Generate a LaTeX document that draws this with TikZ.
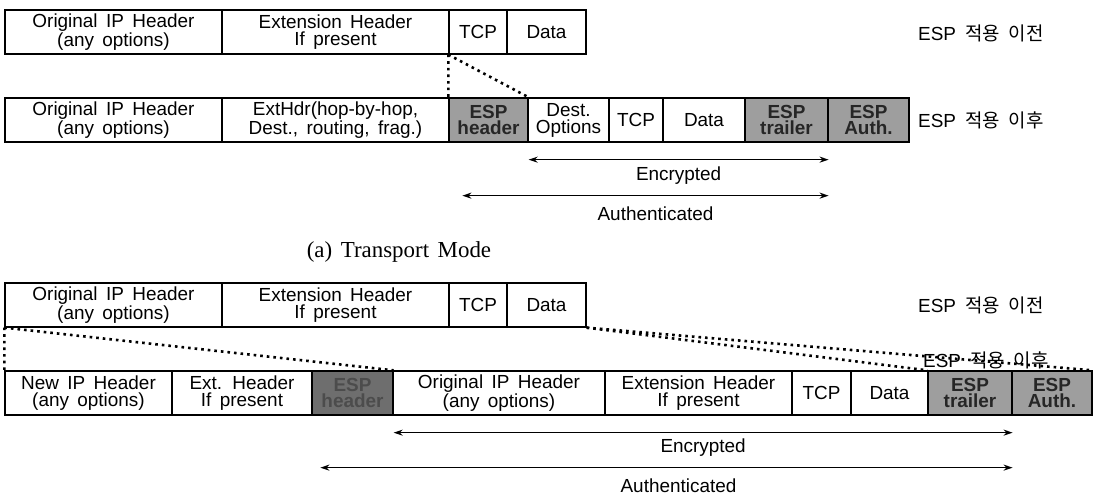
\documentclass[tikz,border=0pt]{standalone}
\usepackage{fontspec}
\setmainfont{Liberation Sans}[WordSpace=1.6]
\newfontfamily\capfont{Liberation Serif}[WordSpace=1.5]
\newfontfamily\krfont{Noto Sans CJK KR}
\usetikzlibrary{arrows.meta}

\definecolor{espgray}{HTML}{9E9E9E}
\definecolor{espdark}{HTML}{6E6E6E}
\definecolor{espink}{HTML}{262626}
\definecolor{espdarkink}{HTML}{4C4C4C}

\tikzset{
  cell/.style={draw, line width=1.3bp, inner sep=0pt, minimum height=44bp,
    align=center, font=\fontsize{19}{17}\selectfont},
  espcell/.style={cell, fill=espgray, text=espink,
    font=\fontsize{19}{17}\selectfont\bfseries},
  espcelldark/.style={espcell, fill=espdark, text=espdarkink},
  fan/.style={line width=2.6bp, dash pattern=on 2.6bp off 4bp},
  span/.style={line width=1.5bp,
    {Stealth[length=9bp,width=6bp]}-{Stealth[length=9bp,width=6bp]}},
  spanlabel/.style={font=\fontsize{19}{19}\selectfont, inner sep=0pt},
  stage/.style={anchor=west, inner sep=0pt, font=\fontsize{19}{19}\selectfont},
}

\begin{document}
\begin{tikzpicture}[x=1bp, y=-1bp]
\fill[white] (0,0) rectangle (1093,496);
\useasboundingbox (0,0) rectangle (1093,496);

% ---------- Transport mode: before ESP ----------
\node[cell, minimum width=217bp] (t1ip)   at (113.5,32) {Original IP Header\\(any options)};
\node[cell, minimum width=227bp] (t1ext)  at (335.5,32) {Extension Header\\If present};
\node[cell, minimum width=58bp]  (t1tcp)  at (478,32)   {TCP};
\node[cell, minimum width=79bp]  (t1data) at (546.5,32) {Data};
\node[stage] (t1lab) at (918,33) {ESP\hspace{0.5em}{\krfont 적용\hspace{0.45em}이전}};

% ---------- Transport mode: after ESP ----------
\node[cell, minimum width=217bp] (t2ip)   at (113.5,120) {Original IP Header\\(any options)};
\node[cell, minimum width=227bp] (t2ext)  at (335.5,120) {ExtHdr(hop-by-hop,\\Dest., routing, frag.)};
\node[espcell, minimum width=79bp] (t2esph) at (488.5,120) {ESP\\header};
\node[cell, minimum width=81bp]  (t2dest) at (568.5,120) {Dest.\\Options};
\node[cell, minimum width=54bp]  (t2tcp)  at (636,120)   {TCP};
\node[cell, minimum width=82bp]  (t2data) at (704,120)   {Data};
\node[espcell, minimum width=83bp] (t2trl)  at (786.5,120) {ESP\\trailer};
\node[espcell, minimum width=81bp] (t2auth) at (868.5,120) {ESP\\Auth.};
\node[stage] (t2lab) at (918,120) {ESP\hspace{0.5em}{\krfont 적용\hspace{0.45em}이후}};

\draw[fan] (t1tcp.south west) -- (t2esph.north west);
\draw[fan] (t1tcp.south west) -- (t2esph.north east);

\draw[span] ([yshift=-17bp]t2esph.south east) -- ([yshift=-17bp]t2trl.south east)
  node[spanlabel, midway, yshift=-16bp] (t2enc) {Encrypted};
\draw[span] ([xshift=14bp,yshift=-53bp]t2esph.south west) -- ([yshift=-53bp]t2trl.south east)
  node[spanlabel, midway, xshift=10bp, yshift=-18bp] (t2aut) {Authenticated};

\node[font=\fontsize{23}{23}\selectfont\capfont, inner sep=0pt] (cap) at (399,252) {(a) Transport Mode};

% ---------- Tunnel mode: before ESP ----------
\node[cell, minimum width=217bp] (n1ip)   at (113.5,305) {Original IP Header\\(any options)};
\node[cell, minimum width=227bp] (n1ext)  at (335.5,305) {Extension Header\\If present};
\node[cell, minimum width=58bp]  (n1tcp)  at (478,305)   {TCP};
\node[cell, minimum width=79bp]  (n1data) at (546.5,305) {Data};
\node[stage] (n1lab) at (918,305) {ESP\hspace{0.5em}{\krfont 적용\hspace{0.45em}이전}};

% ---------- Tunnel mode: after ESP ----------
\node[cell, minimum width=167bp] (n2new)  at (88.5,393)  {New IP Header\\(any options)};
\node[cell, minimum width=140bp] (n2ext)  at (242,393)   {Ext. Header\\If present};
\node[espcelldark, minimum width=81bp] (n2esph) at (352.5,393) {ESP\\header};
\node[cell, minimum width=212bp] (n2ip)   at (499,393)   {Original IP Header\\(any options)};
\node[cell, minimum width=187bp] (n2xh)   at (698.5,393) {Extension Header\\If present};
\node[cell, minimum width=59bp]  (n2tcp)  at (821.5,393) {TCP};
\node[cell, minimum width=77bp]  (n2data) at (889.5,393) {Data};
\node[espcell, minimum width=84bp] (n2trl)  at (970,393)   {ESP\\trailer};
\node[espcell, minimum width=80bp] (n2auth) at (1052,393)  {ESP\\Auth.};

\draw[fan] (n1ip.south west) -- (n2new.north west);
\draw[fan] (n1ip.south west) -- (n2esph.north east);
\draw[fan] (n1data.south east) -- (n2trl.north west);
\draw[fan] (n1data.south east) -- (n2auth.north east);
\node[stage] (n2lab) at (923,360) {ESP\hspace{0.5em}{\krfont 적용\hspace{0.45em}이후}};

\draw[span] ([yshift=-17bp]n2esph.south east) -- ([yshift=-17bp]n2trl.south east)
  node[spanlabel, midway, yshift=-15bp] (n2enc) {Encrypted};
\draw[span] ([xshift=9bp,yshift=-52bp]n2esph.south west) -- ([yshift=-52bp]n2trl.south east)
  node[spanlabel, midway, xshift=12bp, yshift=-18bp] (n2aut) {Authenticated};
\end{tikzpicture}
\end{document}
